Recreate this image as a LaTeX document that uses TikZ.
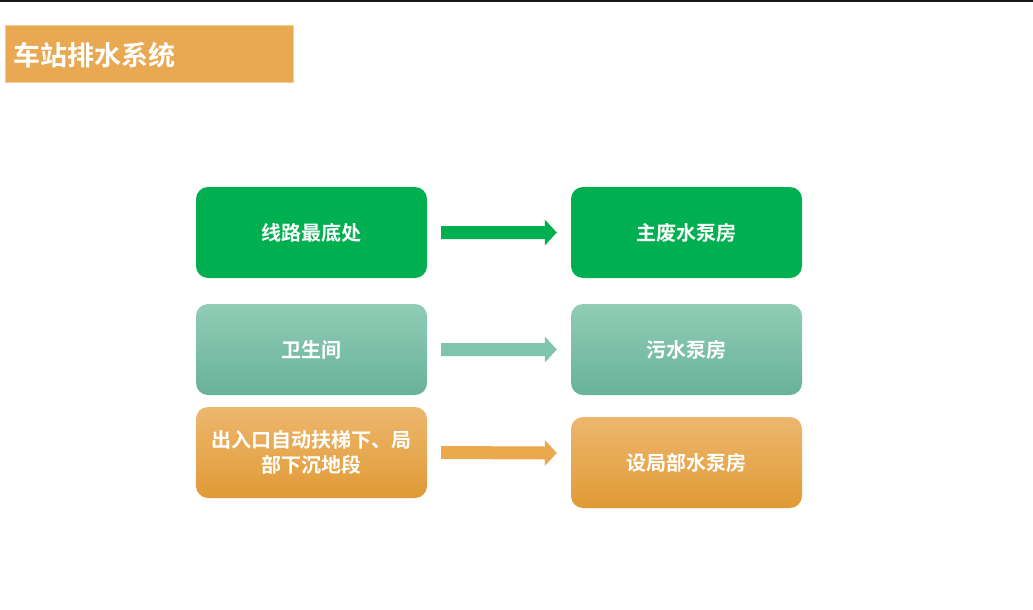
\documentclass[tikz,border=0pt]{standalone}
\usepackage{fontspec}
\newfontfamily\cjk{Noto Sans CJK SC}
\newfontfamily\cjkb{Noto Sans CJK SC Bold}
\usetikzlibrary{calc}
\definecolor{titleor}{HTML}{E8A952}
\definecolor{titleedge}{HTML}{F2CC94}
\definecolor{gr}{HTML}{00B050}
\definecolor{tealtop}{HTML}{91CCB6}
\definecolor{tealbot}{HTML}{68B299}
\definecolor{tealarr}{HTML}{7FC4AC}
\definecolor{ortop}{HTML}{EDB76E}
\definecolor{orbot}{HTML}{E09A35}
\definecolor{orarr}{HTML}{EBA94E}
\tikzset{
  box/.style={rounded corners=12pt, minimum width=231pt, minimum height=91pt,
    inner sep=0pt, align=center, text=white,
    font=\cjkb\fontsize{20}{25}\selectfont},
  greenbox/.style={box, fill=gr},
  tealbox/.style={box, top color=tealtop, bottom color=tealbot},
  orbox/.style={box, top color=ortop, bottom color=orbot},
}
\begin{document}
\begin{tikzpicture}[x=1pt,y=-1pt]
\useasboundingbox (0,0) rectangle (1033,610);
\fill[white] (0,0) rectangle (1033,610);
\fill[black!90] (0,0) rectangle (1033,2);
\node[draw=titleedge, fill=titleor, line width=0.6pt, minimum width=288pt, minimum height=57pt,
  inner sep=0pt, anchor=north west] (title) at (5,25) {};
\node[anchor=west, text=white, font=\cjkb\fontsize{27}{32}\selectfont, inner sep=0pt] (titletext) at (13,55) {车站排水系统};

\node[greenbox] (a1) at (311.5,232.5) {线路最底处};
\node[greenbox] (b1) at (686.5,232.5) {主废水泵房};
\node[tealbox] (a2) at (311.5,349.5) {卫生间};
\node[tealbox] (b2) at (686.5,349.5) {污水泵房};
\node[orbox] (a3) at (311.5,452.5) {出入口自动扶梯下、局\\部下沉地段};
\node[orbox] (b3) at (686.5,462.5) {设局部水泵房};
\coordinate (b3w) at ($(b3.west)+(0,-9.5)$);

\fill[gr] ($(a1.east)+(14,-6.5)$) -- ($(b1.west)+(-26,-6.5)$) -- ($(b1.west)+(-26,-13)$)
    -- ($(b1.west)+(-14,0)$) -- ($(b1.west)+(-26,13)$) -- ($(b1.west)+(-26,6.5)$)
    -- ($(a1.east)+(14,6.5)$) -- cycle;
\fill[tealarr] ($(a2.east)+(14,-6.5)$) -- ($(b2.west)+(-26,-6.5)$) -- ($(b2.west)+(-26,-13)$)
    -- ($(b2.west)+(-14,0)$) -- ($(b2.west)+(-26,13)$) -- ($(b2.west)+(-26,6.5)$)
    -- ($(a2.east)+(14,6.5)$) -- cycle;
\fill[orarr] ($(a3.east)+(14,-6.5)$) -- ($(b3w)+(-26,-6.5)$) -- ($(b3w)+(-26,-13)$)
    -- ($(b3w)+(-14,0)$) -- ($(b3w)+(-26,13)$) -- ($(b3w)+(-26,6.5)$)
    -- ($(a3.east)+(14,6.5)$) -- cycle;
\end{tikzpicture}
\end{document}
